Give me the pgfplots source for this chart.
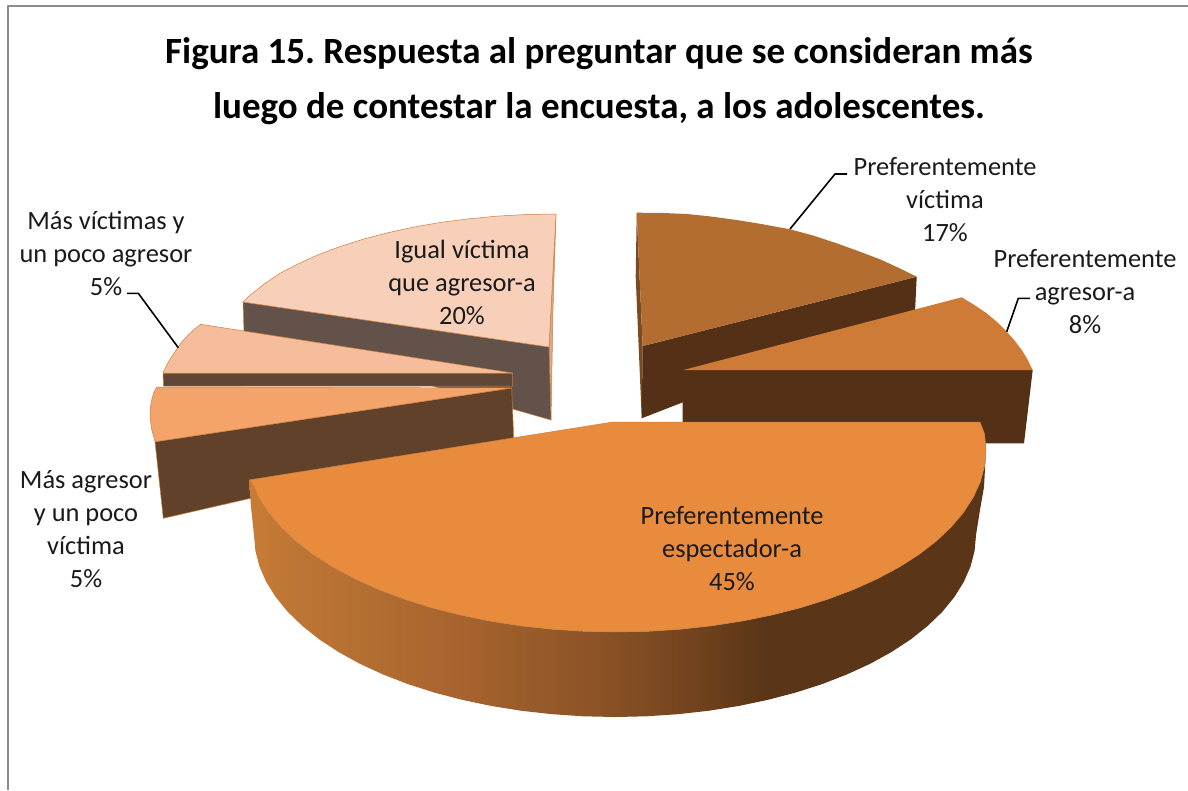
\documentclass[border=0pt]{standalone}
\usepackage{fontspec}
\setmainfont{Carlito}
\usepackage{pgfplots}
\pgfplotsset{compat=1.18}
\definecolor{sA}{HTML}{C87C36}
\definecolor{sB}{HTML}{BC7534}
\definecolor{sC}{HTML}{A9652F}
\definecolor{sD}{HTML}{8C5326}
\definecolor{sE}{HTML}{70421D}
\definecolor{sF}{HTML}{5A3517}
\pgfdeclarehorizontalshading{sideshade}{100bp}{color(0bp)=(sA);color(25bp)=(sA);color(28.3bp)=(sB);color(38.5bp)=(sC);color(48.5bp)=(sD);color(55.5bp)=(sE);color(60bp)=(sF);color(75bp)=(sF);color(100bp)=(sF)}
\definecolor{edgeO}{HTML}{C8803F}
\definecolor{igualTop}{HTML}{F8D0BA}
\definecolor{igualSide}{HTML}{63524A}
\definecolor{igualThin}{HTML}{D8A88C}
\definecolor{mvTop}{HTML}{F5BD9B}
\definecolor{mvSide}{HTML}{5F4637}
\definecolor{maTop}{HTML}{F4A46A}
\definecolor{maSide}{HTML}{62412A}
\definecolor{pvTop}{HTML}{B36D30}
\definecolor{darkSide}{HTML}{543016}
\definecolor{pvThin}{HTML}{7A4A20}
\definecolor{paTop}{HTML}{CE7B38}
\definecolor{peTop}{HTML}{E88B3D}
\definecolor{txt}{HTML}{1A1A1A}
\frenchspacing
\begin{document}
\begin{tikzpicture}
\begin{axis}[scale only axis,width=1188pt,height=790pt,xmin=0,xmax=1188,ymin=0,ymax=790,y dir=reverse,hide axis,line join=round]
% full canvas
\addplot[draw=none,fill=white] coordinates {(0,0)(1188,0)(1188,790)(0,790)(0,0)};
% frame
\addplot[draw=black!45,line width=2pt] coordinates {(8,790)(8,6)(1188,6)};
% Igual victima
\addplot[draw=edgeO,line width=.5pt,fill=igualThin] coordinates {(556,214)(553,310)(551,420)(549,347)(556,214)};
\addplot[draw=edgeO,line width=.5pt,fill=igualSide] coordinates {(243,302)(549,347)(551,420)(244,332)(243,302)};
\addplot[draw=edgeO,line width=.5pt,fill=igualTop] coordinates {(549,347)(243,302)(250.6,294.8)(264.2,284)(280,273.3)(297.8,264)(317.7,255)(339.4,246.8)(362.7,239.3)(387.5,232.8)(413.6,227.1)(440.7,222.4)(468.8,218.8)(497.5,216.1)(526.6,214.5)(556,214)(549,347)};
% Mas victimas
\addplot[draw=edgeO,line width=.5pt,fill=mvSide] coordinates {(163,373)(512.7,373)(512.7,386)(163.5,386)(163,373)};
\addplot[draw=edgeO,line width=.5pt,fill=mvTop] coordinates {(512.7,373)(163,373)(167,364.5)(171.7,356.7)(178.3,346.7)(183,340.6)(188.3,335)(194,329.5)(200.7,324.3)(512.7,373)};
% Mas agresor
\addplot[draw=edgeO,line width=.5pt,fill=maSide] coordinates {(155,441.7)(511.7,388)(513.7,438)(163.3,518.3)(155,441.7)};
\addplot[draw=edgeO,line width=.5pt,fill=maTop] coordinates {(511.7,388)(156.7,387)(153.6,393)(151.7,400)(150.3,408)(150,416.7)(151.6,429)(155,441.7)(511.7,388)};
% Preferentemente victima
\addplot[draw=none,fill=pvThin] coordinates {(636.7,212.7)(635.7,276.7)(641.7,418.3)(642.7,346)(636.7,212.7)};
\addplot[draw=none,fill=darkSide] coordinates {(642.7,346)(916.7,276.7)(915,312)(641.7,418.3)(642.7,346)};
\addplot[draw=none,fill=pvTop] coordinates {(642.7,346)(636.7,212.7)(661,212.9)(686.7,214)(711,216.5)(736.7,220)(763,224.3)(790,229.3)(813,235.5)(836.7,243.3)(858,251)(880,259.3)(899,268)(916.7,276.7)(642.7,346)};
% Preferentemente agresor
\addplot[draw=none,fill=darkSide] coordinates {(683,370)(1032.7,370)(1024,443.3)(682.3,443.3)(683,370)};
\addplot[draw=none,fill=paTop] coordinates {(683.3,370)(961.7,297.3)(974,304.8)(986.7,313.3)(997,322)(1006.7,331.7)(1014.5,340.5)(1021.7,350)(1027.5,359.5)(1032.7,370)(683.3,370)};
% Preferentemente espectador: side
\addplot[draw=none,shade,shading=sideshade] coordinates {(980,422)(984.6,434)(986,450)(984.6,465.9)(980.4,481.6)(973.4,497.1)(963.7,512.2)(951.3,526.9)(936.4,541)(919.1,554.4)(899.4,567)(877.6,578.7)(853.8,589.4)(828.2,599.1)(801,607.6)(772.4,614.9)(742.5,621)(711.8,625.8)(680.3,629.2)(648.3,631.3)(616,632)(583.7,631.3)(551.7,629.2)(520.2,625.8)(489.5,621)(459.6,614.9)(431,607.6)(403.8,599.1)(378.2,589.4)(354.4,578.7)(332.6,567)(312.9,554.4)(295.6,541)(280.7,526.9)(268.3,512.2)(258.6,497.1)(251.6,481.6)(249,480)(251,507)(254,535)(255.4,550.9)(259.5,566.6)(266.3,582.1)(275.8,597.2)(287.8,611.9)(302.4,626)(319.3,639.4)(338.5,652)(359.7,663.7)(382.9,674.4)(407.9,684.1)(434.5,692.6)(462.4,699.9)(491.5,706)(521.6,710.8)(552.3,714.2)(583.5,716.3)(615,717)(646.5,716.3)(677.7,714.2)(708.4,710.8)(738.5,706)(767.6,699.9)(795.5,692.6)(822.1,684.1)(847,674.4)(870.3,663.7)(891.5,652)(910.7,639.4)(927.6,626)(942.2,611.9)(954.2,597.2)(963.7,582.1)(970.5,566.6)(974.6,550.9)(976,535)(980,510)(984,487)(986,450)(980,422)};
% Preferentemente espectador: top
\addplot[draw=edgeO,line width=.5pt,fill=peTop] coordinates {(613,422)(980,422)(984.6,434)(986,450)(984.6,465.9)(980.4,481.6)(973.4,497.1)(963.7,512.2)(951.3,526.9)(936.4,541)(919.1,554.4)(899.4,567)(877.6,578.7)(853.8,589.4)(828.2,599.1)(801,607.6)(772.4,614.9)(742.5,621)(711.8,625.8)(680.3,629.2)(648.3,631.3)(616,632)(583.7,631.3)(551.7,629.2)(520.2,625.8)(489.5,621)(459.6,614.9)(431,607.6)(403.8,599.1)(378.2,589.4)(354.4,578.7)(332.6,567)(312.9,554.4)(295.6,541)(280.7,526.9)(268.3,512.2)(258.6,497.1)(251.6,481.6)(249,480)(613,422)};
% leaders
\addplot[draw=black,line width=1.6pt] coordinates {(790,229)(835,174)(847,174)};
\addplot[draw=black,line width=1.6pt] coordinates {(1006.7,331.7)(1018.3,298.3)(1030,298.3)};
\addplot[draw=black,line width=1.6pt] coordinates {(178.3,347.7)(138.3,293.3)(127,293.3)};
% texts
\node[font=\fontsize{37}{55}\selectfont\bfseries,align=center,text=black] at (axis cs:599,81) {Figura 15. Respuesta al preguntar que se consideran más\\luego de contestar la encuesta, a los adolescentes.};
\tikzset{lab/.style={font=\fontsize{26.4}{33}\selectfont,align=center,text=txt,inner sep=0pt}}
\node[lab] at (axis cs:945,200) {Preferentemente\\víctima\\17\%};
\node[lab] at (axis cs:1085,292) {Preferentemente\\agresor-a\\8\%};
\node[lab] at (axis cs:462,282) {Igual víctima\\que agresor-a\\20\%};
\node[lab] at (axis cs:106,253) {Más víctimas y\\un poco agresor\\5\%};
\node[lab] at (axis cs:86,529) {Más agresor\\y un poco\\víctima\\5\%};
\node[lab] at (axis cs:732,549) {Preferentemente\\espectador-a\\45\%};
\end{axis}
\end{tikzpicture}
\end{document}
